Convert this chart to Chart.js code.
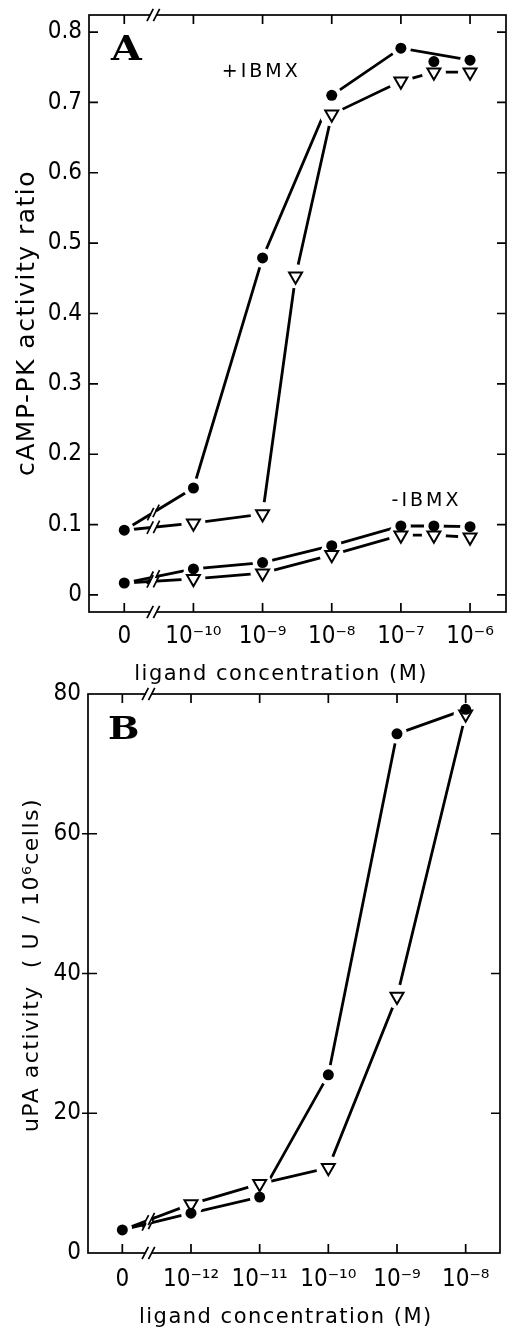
<!DOCTYPE html>
<html><head><meta charset="utf-8">
<script src="https://cdn.jsdelivr.net/npm/chart.js@4.4.1/dist/chart.umd.min.js"></script>
<style>
html,body{margin:0;padding:0;background:#fff;overflow:hidden;width:507px;height:1328px;}
canvas{position:absolute;left:0;}
#ca{top:0;}
#cb{top:680px;}
</style></head><body>
<canvas id="ca" width="507" height="690"></canvas>
<canvas id="cb" width="507" height="652"></canvas>
<script>
// ---------------- Panel A data ----------------
const xTickConcA = [0, 1e-10, 1e-9, 1e-8, 1e-7, 1e-6];
const xTickLabelsA = ['0', '10⁻¹⁰', '10⁻⁹', '10⁻⁸', '10⁻⁷', '10⁻⁶'];
const yTicksA = [0, 0.1, 0.2, 0.3, 0.4, 0.5, 0.6, 0.7, 0.8];
const yTickLabelsA = ['0', '0.1', '0.2', '0.3', '0.4', '0.5', '0.6', '0.7', '0.8'];
const concPlusFilledA = [0, 1e-10, 1e-9, 1e-8, 1e-7, 3e-7, 1e-6];
const plusFilledA     = [0.092, 0.152, 0.479, 0.710, 0.777, 0.758, 0.760];
const concPlusOpenA   = [0, 1e-10, 1e-9, 3e-9, 1e-8, 1e-7, 3e-7, 1e-6];
const plusOpenA       = [0.092, 0.102, 0.115, 0.453, 0.683, 0.730, 0.743, 0.743];
const concMinusA      = [0, 1e-10, 1e-9, 1e-8, 1e-7, 3e-7, 1e-6];
const minusFilledA    = [0.017, 0.037, 0.046, 0.070, 0.098, 0.098, 0.097];
const minusOpenA      = [0.017, 0.023, 0.031, 0.057, 0.085, 0.085, 0.082];

// ---------------- Panel B data ----------------
const xTickConcB = [0, 1e-12, 1e-11, 1e-10, 1e-9, 1e-8];
const xTickLabelsB = ['0', '10⁻¹²', '10⁻¹¹', '10⁻¹⁰', '10⁻⁹', '10⁻⁸'];
const yTicksB = [0, 20, 40, 60, 80];
const yTickLabelsB = ['0', '20', '40', '60', '80'];
const concB   = [0, 1e-12, 1e-11, 1e-10, 1e-9, 1e-8];
const filledB = [3.3, 5.7, 8.0, 25.5, 74.3, 77.8];
const openB   = [3.3, 7.0, 9.9, 12.2, 36.7, 77.1];

// ---------------- helpers ----------------
const TF = '"Liberation Sans Narrow", "DejaVu Sans Condensed", sans-serif';
const LF = '"DejaVu Sans", sans-serif';
const posA = c => c === 0 ? 0 : Math.log10(c) + 11;   // 1e-10 -> 1
const posB = c => c === 0 ? 0 : Math.log10(c) + 13;   // 1e-12 -> 1
const toPts = (conc, vals, pos) => conc.map((c, i) => ({x: pos(c), y: vals[i]}));

function buildDatasets(series) {
  const lines = series.map(s => ({
    data: s.pts.filter((p, i) => !(s.lineSkip || []).includes(i)),
    borderColor: '#000', borderWidth: 2.8, pointRadius: 0, showLine: true,
    fill: false, tension: 0, order: 3
  }));
  const halos = series.map(s => ({
    data: s.pts.filter((p, i) => !(s.lineSkip || []).includes(i) && !(s.skipFirst && i === 0)),
    showLine: false, pointStyle: 'circle', pointRadius: s.open ? 12 : 10,
    pointBackgroundColor: '#fff', pointBorderColor: '#fff', pointBorderWidth: 0, order: 2
  }));
  const marks = series.map(s => ({
    data: s.skipFirst ? s.pts.slice(1) : s.pts,
    showLine: false, pointStyle: s.open ? 'triangle' : 'circle', pointRotation: s.open ? 180 : 0,
    pointRadius: s.open ? 7.5 : 5.5, pointBackgroundColor: s.open ? '#fff' : '#000',
    pointBorderColor: '#000', pointBorderWidth: s.open ? 2 : 0, order: 1
  }));
  return [...lines, ...halos, ...marks];
}

function drawBreak(ctx, x, y, ang) {
  ctx.save();
  ctx.translate(x, y);
  ctx.strokeStyle = '#fff'; ctx.lineWidth = 6; ctx.lineCap = 'butt';
  ctx.beginPath();
  ctx.moveTo(-3 * Math.cos(ang), -3 * Math.sin(ang));
  ctx.lineTo(3 * Math.cos(ang), 3 * Math.sin(ang));
  ctx.stroke();
  ctx.strokeStyle = '#000'; ctx.lineWidth = 1.7;
  ctx.beginPath();
  const dx = 0.45, dy = -0.89, h = 7;
  [-3.2, 3.2].forEach(o => {
    const cx = o * Math.cos(ang), cy = o * Math.sin(ang);
    ctx.moveTo(cx - dx * h, cy - dy * h);
    ctx.lineTo(cx + dx * h, cy + dy * h);
  });
  ctx.stroke();
  ctx.restore();
}

function makeDecor(cfg) {
  return {
    id: 'decor',
    beforeDraw(chart) { chart.ctx.letterSpacing = '1.5px'; },
    afterDatasetsDraw(chart) { chart.ctx.letterSpacing = '0px'; },
    afterDraw(chart) {
      const ctx = chart.ctx, a = chart.chartArea, xs = chart.scales.x, ys = chart.scales.y;
      ctx.save();
      ctx.letterSpacing = '0px';
      ctx.strokeStyle = '#000'; ctx.lineWidth = 1.7; ctx.lineCap = 'butt';
      ctx.strokeRect(a.left, a.top, a.right - a.left, a.bottom - a.top);
      ctx.beginPath();
      xs.ticks.forEach(t => {
        const px = xs.getPixelForValue(t.value);
        ctx.moveTo(px, a.bottom); ctx.lineTo(px, a.bottom - cfg.tickIn);
        ctx.moveTo(px, a.top); ctx.lineTo(px, a.top + cfg.tickIn);
      });
      ys.ticks.forEach(t => {
        const py = ys.getPixelForValue(t.value);
        if (Math.abs(py - a.top) < 2 || Math.abs(py - a.bottom) < 2) return;
        ctx.moveTo(a.left - cfg.tickOut, py); ctx.lineTo(a.left + cfg.tickIn, py);
        ctx.moveTo(a.right, py); ctx.lineTo(a.right - cfg.tickIn, py);
      });
      ctx.stroke();
      const bx = xs.getPixelForValue(cfg.breakX);
      drawBreak(ctx, bx, a.top, 0);
      drawBreak(ctx, bx, a.bottom, 0);
      cfg.lineBreaks.forEach(idx => {
        const meta = chart.getDatasetMeta(idx);
        const p0 = meta.data[0], p1 = meta.data[1];
        const t = (bx - p0.x) / (p1.x - p0.x);
        drawBreak(ctx, bx, p0.y + t * (p1.y - p0.y), Math.atan2(p1.y - p0.y, p1.x - p0.x));
      });
      cfg.labels.forEach(l => {
        ctx.save();
        ctx.font = l.font; ctx.letterSpacing = l.ls || '0px'; ctx.fillStyle = '#000';
        ctx.textAlign = 'center'; ctx.textBaseline = 'middle';
        ctx.translate(xs.getPixelForValue(l.x), ys.getPixelForValue(l.y));
        ctx.scale(l.sx || 1, 1);
        ctx.fillText(l.text, 0, 0);
        ctx.restore();
      });
      ctx.restore();
    }
  };
}

function makeChart(el, o) {
  return new Chart(el, {
    type: 'scatter',
    data: {datasets: buildDatasets(o.series)},
    options: {
      responsive: false, animation: false, events: [], devicePixelRatio: 1,
      layout: {padding: o.padding, autoPadding: false},
      plugins: {legend: {display: false}, tooltip: {enabled: false}},
      scales: {
        x: {
          type: 'linear', min: o.xMin, max: o.xMax,
          grid: {display: false, drawTicks: false}, border: {display: false},
          afterBuildTicks: s => { s.ticks = o.xTickVals.map(v => ({value: v})); },
          ticks: {z: 1, padding: o.xTickPad, maxRotation: 0, autoSkip: false, color: '#000',
                  font: {family: TF, size: 24}, callback: (v, i) => o.xTickLabels[i]},
          title: {display: true, text: o.xTitle, color: '#000',
                  font: {family: LF, size: 21}, padding: {top: 0, bottom: o.xTitlePad}},
          afterFit: s => { s.height = o.xAxisH; s.paddingLeft = 0; s.paddingRight = 0; }
        },
        y: {
          type: 'linear', min: o.yMin, max: o.yMax,
          grid: {display: false, drawTicks: false}, border: {display: false},
          afterBuildTicks: s => { s.ticks = o.yTickVals.map(v => ({value: v})); },
          ticks: {z: 1, padding: 7, autoSkip: false, color: '#000',
                  font: {family: TF, size: 24, lineHeight: 1}, callback: (v, i) => o.yTickLabels[i]},
          title: {display: true, text: o.yTitle, color: '#000',
                  font: {family: LF, size: o.yTitleSize}, padding: {top: o.yTitlePad, bottom: 0}},
          afterFit: s => { s.width = o.yAxisW; s.paddingTop = 0; s.paddingBottom = 0; }
        }
      }
    },
    plugins: [makeDecor(o.decor)]
  });
}

// ---------------- Panel A ----------------
makeChart(document.getElementById('ca'), {
  series: [
    {pts: toPts(concPlusFilledA, plusFilledA, posA), open: false, lineSkip: [5]},
    {pts: toPts(concPlusOpenA, plusOpenA, posA), open: true, skipFirst: true},
    {pts: toPts(concMinusA, minusFilledA, posA), open: false},
    {pts: toPts(concMinusA, minusOpenA, posA), open: true, skipFirst: true}
  ],
  padding: {left: 0, top: 15, right: 1, bottom: 0},
  xMin: -0.51, xMax: 5.52, yMin: -0.0242, yMax: 0.8242,
  xTickVals: xTickConcA.map(posA), xTickLabels: xTickLabelsA, xTickPad: 10,
  yTickVals: yTicksA, yTickLabels: yTickLabelsA,
  xTitle: 'ligand concentration (M)    ', xTitlePad: 3, xAxisH: 78,
  yTitle: 'cAMP-PK activity ratio  ', yTitlePad: 12, yTitleSize: 25, yAxisW: 89,
  decor: {
    tickIn: 9, tickOut: 0, breakX: 0.42, lineBreaks: [0, 1, 2, 3],
    labels: [
      {text: 'A', x: 0.03, y: 0.773, font: 'bold 33px "DejaVu Serif", serif', sx: 1.2},
      {text: '+IBMX', x: 1.98, y: 0.743, font: '19px ' + LF, ls: '3px'},
      {text: '-IBMX', x: 4.37, y: 0.134, font: '19px ' + LF, ls: '3px'}
    ]
  }
});

// ---------------- Panel B ----------------
makeChart(document.getElementById('cb'), {
  series: [
    {pts: toPts(concB, filledB, posB), open: false},
    {pts: toPts(concB, openB, posB), open: true, skipFirst: true}
  ],
  padding: {left: 0, top: 14, right: 7, bottom: 0},
  xMin: -0.5, xMax: 5.5, yMin: 0, yMax: 80,
  xTickVals: xTickConcB.map(posB), xTickLabels: xTickLabelsB, xTickPad: 12,
  yTickVals: yTicksB, yTickLabels: yTickLabelsB,
  xTitle: 'ligand concentration (M)  ', xTitlePad: 2, xAxisH: 79,
  yTitle: '  uPA activity  ( U / 10⁶cells)', yTitlePad: 19, yTitleSize: 22, yAxisW: 88,
  decor: {
    tickIn: 9, tickOut: 6, breakX: 0.38, lineBreaks: [0, 1],
    labels: [
      {text: 'B', x: 0.02, y: 74.7, font: 'bold 31px "DejaVu Serif", serif', sx: 1.2}
    ]
  }
});
</script>
</body></html>
